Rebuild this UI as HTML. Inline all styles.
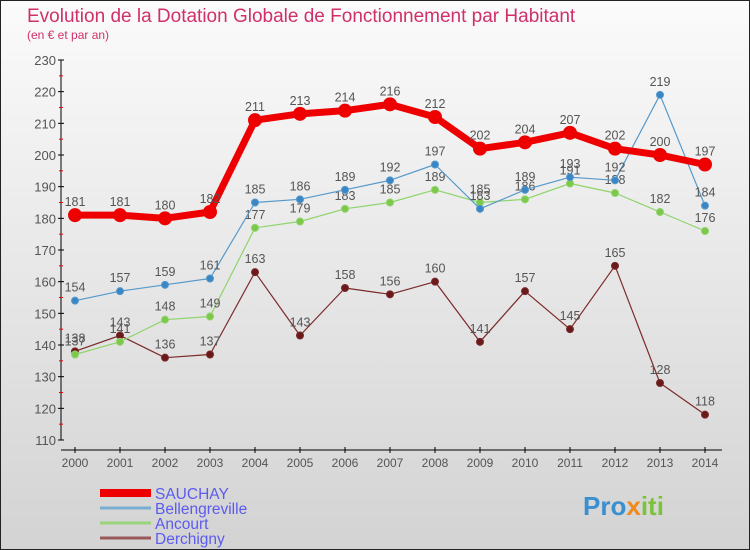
<!DOCTYPE html>
<html><head><meta charset="utf-8">
<style>
html,body{margin:0;padding:0}
body{width:750px;height:550px;overflow:hidden;font-family:"Liberation Sans",sans-serif}
#wrap{position:absolute;left:0;top:0;width:748px;height:548px;border:1px solid #222;background:linear-gradient(#fbfbfb,#d3d3d3)}
</style></head><body>
<div id="wrap">
<svg id="chart" width="750" height="550" style="position:absolute;left:-1px;top:-1px">
<text x="27" y="22" font-size="19" fill="#d0306a">Evolution de la Dotation Globale de Fonctionnement par Habitant</text>
<text x="27" y="39" font-size="12" fill="#d0306a">(en € et par an)</text>
<g id="axes"></g><g id="series"></g><g id="legend"></g>
<text x="583" y="515" font-size="26" font-weight="bold" fill="#3a8fd0">Pro<tspan fill="#f08a1c">x</tspan><tspan fill="#7cc23a">iti</tspan></text>
</svg>
</div>
<script>
const years=[2000,2001,2002,2003,2004,2005,2006,2007,2008,2009,2010,2011,2012,2013,2014];
const yTicks=[110,120,130,140,150,160,170,180,190,200,210,220,230];
const sauchay=[181,181,180,182,211,213,214,216,212,202,204,207,202,200,197];
const bellengreville=[154,157,159,161,185,186,189,192,197,183,189,193,192,219,184];
const ancourt=[137,141,148,149,177,179,183,185,189,185,186,191,188,182,176];
const derchigny=[138,143,136,137,163,143,158,156,160,141,157,145,165,128,118];
const seriesNames=["SAUCHAY","Bellengreville","Ancourt","Derchigny"];

const NS="http://www.w3.org/2000/svg";
const X=i=>75+i*45;
const Y=v=>440-(v-110)*380/120;
function mk(tag,attrs,parent){const e=document.createElementNS(NS,tag);for(const k in attrs)e.setAttribute(k,attrs[k]);parent.appendChild(e);return e;}
const axes=document.getElementById('axes'),ser=document.getElementById('series'),leg=document.getElementById('legend');

let yl=mk('line',{x1:61,x2:61,y1:60,y2:440,stroke:'#000'},axes);


yTicks.forEach(t=>{
  mk('line',{x1:58,x2:64,y1:Y(t),y2:Y(t),stroke:'#000'},axes);
  if(t<230) mk('line',{x1:59,x2:63,y1:Y(t+5),y2:Y(t+5),stroke:'#e00'},axes);
  const tx=mk('text',{x:56,y:Y(t)+5,'text-anchor':'end','font-size':13,fill:'#555'},axes);
  tx.textContent=t;
  
  
});
let xl=mk('line',{x1:61,x2:722,y1:450,y2:450,stroke:'#000'},axes);


years.forEach((y,i)=>{
  mk('line',{x1:X(i),x2:X(i),y1:447,y2:453,stroke:'#000'},axes);
  const tx=mk('text',{x:X(i),y:467,'text-anchor':'middle','font-size':12,fill:'#555'},axes);
  tx.textContent=y;
  
  
});

function draw(data,name,color,dot,w,r,fs){
  const g=mk('g',{},ser);
  
  
  const pl=mk('polyline',{points:data.map((v,i)=>X(i)+','+Y(v)).join(' '),fill:'none',stroke:color,'stroke-width':w,'stroke-linejoin':'round'},g);
  
  
  data.forEach((v,i)=>{
    const c=mk('circle',{cx:X(i),cy:Y(v),r:r,fill:dot,stroke:color,'stroke-width':1},g);
    
    
    const t=mk('text',{x:X(i),y:Y(v)-9,'text-anchor':'middle','font-size':fs,fill:'#555'},g);
    t.textContent=v;
    
    
  });
}
draw(derchigny,'derchigny','#7a2a2a','#6a1a1a',1.2,3.5,12.5);
draw(ancourt,'ancourt','#8ed46a','#7cc84a',1.2,3.5,12.5);
draw(bellengreville,'bellengreville','#5599cc','#3a86c4',1.2,3.5,12.5);
draw(sauchay,'sauchay','#ee0000','#ee0000',7,6.5,12.5);

const legColors=['#ee0000','#7aaed0','#99d47a','#9a5a5a'];
const legW=[8,3,3,3];
seriesNames.forEach((n,i)=>{
  const y=493+i*15;
  const g=mk('g',{},leg);
  
  
  mk('line',{x1:100,x2:151,y1:y,y2:y,stroke:legColors[i],'stroke-width':legW[i]},g);
  const t=mk('text',{x:155,y:y+6,'font-size':15.5,fill:'#5b5bf0'},g);
  t.textContent=n;
});
</script>
</body></html>
